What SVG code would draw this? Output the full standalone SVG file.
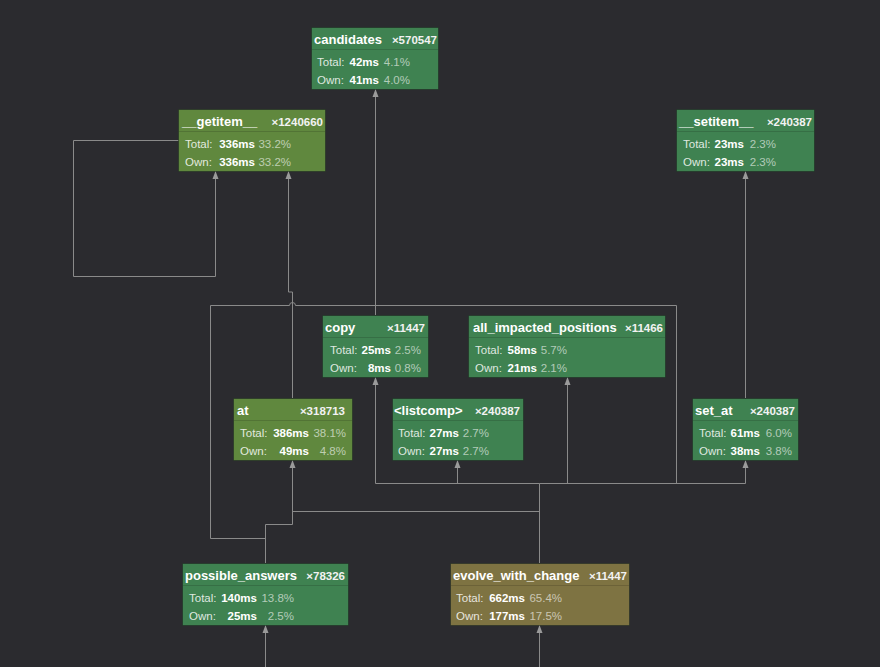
<svg xmlns="http://www.w3.org/2000/svg" width="880" height="667" viewBox="0 0 880 667">
<style>
.bg{fill:#2b2b2f}
.n{stroke:#1e2a20;stroke-opacity:.55;stroke-width:1}
.g{fill:#3f8251}
.o{fill:#60883e}
.y{fill:#7e7342}
.sep{stroke:#000;stroke-opacity:.14;stroke-width:1}
text{font-family:"Liberation Sans",Arial,sans-serif;fill:#fff}
.t{font-size:13px;font-weight:bold}
.c{font-size:11.5px;font-weight:bold;text-anchor:end;fill:#f2f2f2}
.l{font-size:11.5px;fill-opacity:.84}
.v{font-size:11.5px;font-weight:bold;text-anchor:end}
.p{font-size:11.5px;fill-opacity:.6;text-anchor:end}
.e{fill:none;stroke:#8a8a8a;stroke-width:1}
</style>
<defs>
<marker id="ah" viewBox="0 0 8 8" refX="8" refY="4" markerWidth="8" markerHeight="8" markerUnits="userSpaceOnUse" orient="auto"><path d="M0,1 L8,4 L0,7 z" fill="#9a9a9a"/></marker>
</defs>
<rect class="bg" x="0" y="0" width="880" height="667"/>
<g id="connectors">
<path class="e" d="M375.5,315 V89" marker-end="url(#ah)"/>
<path class="e" d="M179,140.5 H73.5 V276.5 H215.5 V171" marker-end="url(#ah)"/>
<path class="e" d="M292.5,398 V292 H288.5 V171" marker-end="url(#ah)"/>
<path class="e" d="M745.5,398 V171" marker-end="url(#ah)"/>
<path class="e" d="M265.5,538.5 H210.5 V305.5 H289.5 A3,3 0 0 1 295.5,305.5 H676.5 V483.5"/>
<path class="e" d="M265.5,563 V524.5 H292.5 V460" marker-end="url(#ah)"/>
<path class="e" d="M539.5,563 V511.5 H292.5"/>
<path class="e" d="M539.5,563 V483.5 H375.5 V377" marker-end="url(#ah)"/>
<path class="e" d="M539.5,483.5 H745.5 V460" marker-end="url(#ah)"/>
<path class="e" d="M457.5,483.5 V460" marker-end="url(#ah)"/>
<path class="e" d="M567.5,483.5 V377" marker-end="url(#ah)"/>
<path class="e" d="M265.5,667 V625" marker-end="url(#ah)"/>
<path class="e" d="M539.5,667 V625" marker-end="url(#ah)"/>
</g>
<g id="candidates">
<rect class="n g" x="311.5" y="27.5" width="127" height="62"/>
<line class="sep" x1="312" y1="49.5" x2="438" y2="49.5"/>
<text class="t" x="314" y="44">candidates</text><text class="c" x="437" y="44">×570547</text>
<text class="l" x="317" y="65.5">Total:</text><text class="v" x="379" y="65.5">42ms</text><text class="p" x="410" y="65.5">4.1%</text>
<text class="l" x="317" y="83.5">Own:</text><text class="v" x="379" y="83.5">41ms</text><text class="p" x="410" y="83.5">4.0%</text>
</g>
<g id="getitem">
<rect class="n o" x="178.5" y="109.5" width="147" height="62"/>
<line class="sep" x1="179" y1="131.5" x2="325" y2="131.5"/>
<text class="t" x="182" y="126">__getitem__</text><text class="c" x="323" y="126">×1240660</text>
<text class="l" x="185" y="147.5">Total:</text><text class="v" x="255" y="147.5">336ms</text><text class="p" x="291" y="147.5">33.2%</text>
<text class="l" x="185" y="165.5">Own:</text><text class="v" x="255" y="165.5">336ms</text><text class="p" x="291" y="165.5">33.2%</text>
</g>
<g id="setitem">
<rect class="n g" x="676.5" y="109.5" width="138" height="62"/>
<line class="sep" x1="677" y1="131.5" x2="814" y2="131.5"/>
<text class="t" x="679" y="126">__setitem__</text><text class="c" x="812" y="126">×240387</text>
<text class="l" x="683" y="147.5">Total:</text><text class="v" x="744" y="147.5">23ms</text><text class="p" x="776" y="147.5">2.3%</text>
<text class="l" x="683" y="165.5">Own:</text><text class="v" x="744" y="165.5">23ms</text><text class="p" x="776" y="165.5">2.3%</text>
</g>
<g id="copy">
<rect class="n g" x="322.5" y="315.5" width="106" height="62"/>
<line class="sep" x1="323" y1="337.5" x2="428" y2="337.5"/>
<text class="t" x="325" y="332">copy</text><text class="c" x="425" y="332">×11447</text>
<text class="l" x="330" y="353.5">Total:</text><text class="v" x="391" y="353.5">25ms</text><text class="p" x="421" y="353.5">2.5%</text>
<text class="l" x="330" y="371.5">Own:</text><text class="v" x="391" y="371.5">8ms</text><text class="p" x="421" y="371.5">0.8%</text>
</g>
<g id="all_impacted_positions">
<rect class="n g" x="468.5" y="315.5" width="197" height="62"/>
<line class="sep" x1="469" y1="337.5" x2="665" y2="337.5"/>
<text class="t" x="473" y="332">all_impacted_positions</text><text class="c" x="663" y="332">×11466</text>
<text class="l" x="475" y="353.5">Total:</text><text class="v" x="537" y="353.5">58ms</text><text class="p" x="567" y="353.5">5.7%</text>
<text class="l" x="475" y="371.5">Own:</text><text class="v" x="537" y="371.5">21ms</text><text class="p" x="567" y="371.5">2.1%</text>
</g>
<g id="at">
<rect class="n o" x="233.5" y="398.5" width="119" height="62"/>
<line class="sep" x1="234" y1="420.5" x2="352" y2="420.5"/>
<text class="t" x="237" y="415">at</text><text class="c" x="345" y="415">×318713</text>
<text class="l" x="240" y="436.5">Total:</text><text class="v" x="309" y="436.5">386ms</text><text class="p" x="346" y="436.5">38.1%</text>
<text class="l" x="240" y="454.5">Own:</text><text class="v" x="309" y="454.5">49ms</text><text class="p" x="346" y="454.5">4.8%</text>
</g>
<g id="listcomp">
<rect class="n g" x="392.5" y="398.5" width="131" height="62"/>
<line class="sep" x1="393" y1="420.5" x2="523" y2="420.5"/>
<text class="t" x="394" y="415">&lt;listcomp&gt;</text><text class="c" x="520" y="415">×240387</text>
<text class="l" x="398" y="436.5">Total:</text><text class="v" x="459" y="436.5">27ms</text><text class="p" x="489" y="436.5">2.7%</text>
<text class="l" x="398" y="454.5">Own:</text><text class="v" x="459" y="454.5">27ms</text><text class="p" x="489" y="454.5">2.7%</text>
</g>
<g id="set_at">
<rect class="n g" x="692.5" y="398.5" width="106" height="62"/>
<line class="sep" x1="693" y1="420.5" x2="798" y2="420.5"/>
<text class="t" x="695" y="415">set_at</text><text class="c" x="795" y="415">×240387</text>
<text class="l" x="699" y="436.5">Total:</text><text class="v" x="760" y="436.5">61ms</text><text class="p" x="792" y="436.5">6.0%</text>
<text class="l" x="699" y="454.5">Own:</text><text class="v" x="760" y="454.5">38ms</text><text class="p" x="792" y="454.5">3.8%</text>
</g>
<g id="possible_answers">
<rect class="n g" x="182.5" y="563.5" width="166" height="62"/>
<line class="sep" x1="183" y1="585.5" x2="348" y2="585.5"/>
<text class="t" x="185" y="580">possible_answers</text><text class="c" x="345" y="580">×78326</text>
<text class="l" x="189" y="601.5">Total:</text><text class="v" x="257" y="601.5">140ms</text><text class="p" x="294" y="601.5">13.8%</text>
<text class="l" x="189" y="619.5">Own:</text><text class="v" x="257" y="619.5">25ms</text><text class="p" x="294" y="619.5">2.5%</text>
</g>
<g id="evolve_with_change">
<rect class="n y" x="450.5" y="563.5" width="179" height="62"/>
<line class="sep" x1="451" y1="585.5" x2="629" y2="585.5"/>
<text class="t" x="453" y="580">evolve_with_change</text><text class="c" x="627" y="580">×11447</text>
<text class="l" x="456" y="601.5">Total:</text><text class="v" x="525" y="601.5">662ms</text><text class="p" x="562" y="601.5">65.4%</text>
<text class="l" x="456" y="619.5">Own:</text><text class="v" x="525" y="619.5">177ms</text><text class="p" x="562" y="619.5">17.5%</text>
</g>
</svg>
